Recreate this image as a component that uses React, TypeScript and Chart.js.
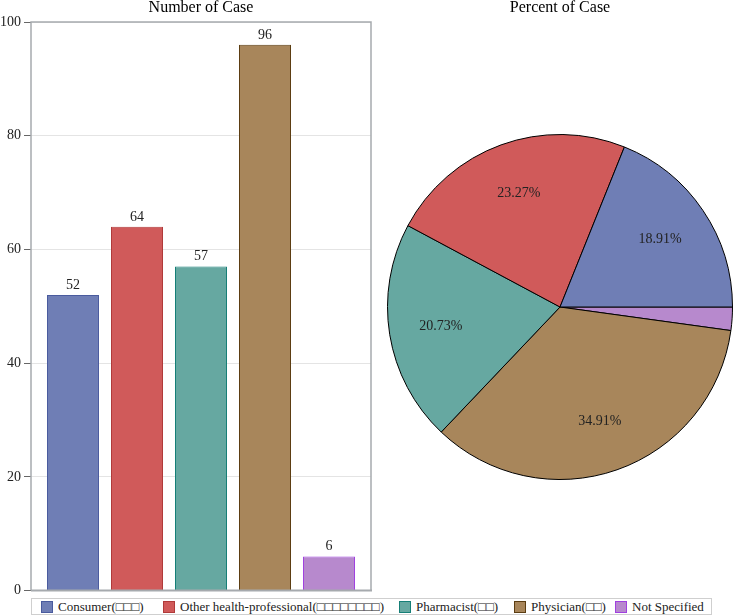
import React, { useEffect, useRef } from "react";
import { Chart, registerables } from "chart.js";

Chart.register(...registerables);

// Reporter types and case counts
const categories = [
  "Consumer(□□□)",
  "Other health-professional(□□□□□□□□)",
  "Pharmacist(□□)",
  "Physician(□□)",
  "Not Specified",
];
const caseCounts = [52, 64, 57, 96, 6];
const fillColors = ["#6F7EB5", "#D05A5A", "#66A8A1", "#A8865B", "#B789CD"];
const edgeColors = ["#4A5B9E", "#B03A3A", "#167F77", "#5C3D12", "#A040E0"];
const yTicks = [0, 20, 40, 60, 80, 100];

// Horizontal offsets of the legend entries inside the legend box
const legendOffsets = [9, 131, 367, 482, 583];

const SERIF = '"Liberation Serif", "Times New Roman", Tinos, "DejaVu Serif", serif';

const titlePlugin = (text: string) => ({
  id: "panelTitle",
  afterDraw(chart: any) {
    const { ctx, chartArea } = chart;
    ctx.save();
    ctx.font = `16px ${SERIF}`;
    ctx.fillStyle = "#000";
    ctx.textAlign = "center";
    ctx.textBaseline = "middle";
    ctx.fillText(text, (chartArea.left + chartArea.right) / 2, 8);
    ctx.restore();
  },
});

const framePlugin = {
  id: "frame",
  afterDatasetsDraw(chart: any) {
    const { ctx, chartArea: a } = chart;
    ctx.save();
    ctx.strokeStyle = "#A6AAAE";
    ctx.lineWidth = 1.5;
    ctx.beginPath();
    ctx.moveTo(a.left, a.bottom);
    ctx.lineTo(a.left, a.top);
    ctx.lineTo(a.right, a.top);
    ctx.lineTo(a.right, a.bottom);
    ctx.stroke();
    ctx.lineWidth = 2;
    ctx.beginPath();
    ctx.moveTo(a.left, a.bottom);
    ctx.lineTo(a.right + 1, a.bottom);
    ctx.stroke();
    ctx.restore();
  },
};

const barValuePlugin = {
  id: "barValues",
  afterDatasetsDraw(chart: any) {
    const { ctx } = chart;
    const meta = chart.getDatasetMeta(0);
    ctx.save();
    ctx.font = `14px ${SERIF}`;
    ctx.fillStyle = "#222";
    ctx.textAlign = "center";
    ctx.textBaseline = "alphabetic";
    meta.data.forEach((el: any, i: number) => {
      ctx.fillText(String(caseCounts[i]), el.x, el.y - 6);
    });
    ctx.restore();
  },
};

const total = caseCounts.reduce((s, v) => s + v, 0);

const pieLabelPlugin = {
  id: "pieLabels",
  afterDatasetsDraw(chart: any) {
    const { ctx } = chart;
    const meta = chart.getDatasetMeta(0);
    const values = chart.data.datasets[0].data as number[];
    ctx.save();
    ctx.font = `14px ${SERIF}`;
    ctx.fillStyle = "#222";
    ctx.textAlign = "center";
    ctx.textBaseline = "middle";
    meta.data.forEach((el: any, i: number) => {
      const pct = (values[i] / total) * 100;
      if (pct < 5) return;
      const p = el.getProps(["x", "y", "startAngle", "endAngle", "outerRadius"], true);
      const mid = (p.startAngle + p.endAngle) / 2;
      const r = p.outerRadius * 0.7;
      ctx.fillText(pct.toFixed(2) + "%", p.x + Math.cos(mid) * r, p.y + Math.sin(mid) * r);
    });
    ctx.restore();
  },
};

export default function App() {
  const barRef = useRef<HTMLCanvasElement>(null);
  const pieRef = useRef<HTMLCanvasElement>(null);

  useEffect(() => {
    document.body.style.margin = "0";
    const bar = new Chart(barRef.current!, {
      type: "bar",
      data: {
        datasets: [
          {
            data: caseCounts.map((v, i) => ({ x: i, y: v })),
            backgroundColor: fillColors,
            borderColor: edgeColors,
            borderWidth: 1,
            barPercentage: 0.8125,
            categoryPercentage: 1,
          } as any,
        ],
      },
      options: {
        responsive: false,
        animation: false,
        layout: { padding: { top: 22, bottom: 11, right: 9, left: 0 } },
        plugins: { legend: { display: false }, tooltip: { enabled: false } },
        scales: {
          x: {
            type: "linear",
            min: -0.656,
            max: 4.656,
            offset: false,
            grid: { offset: false },
            display: false,
          },
          y: {
            min: 0,
            max: 100,
            afterFit: (s: any) => {
              s.width = 31;
            },
            afterBuildTicks: (s: any) => {
              s.ticks = yTicks.map((v) => ({ value: v }));
            },
            ticks: { font: { family: SERIF, size: 14 }, color: "#222", padding: 3 },
            grid: { color: "#E4E4E4", tickColor: "#666", tickLength: 7, drawTicks: true },
            border: { display: false },
          },
        },
      } as any,
      plugins: [framePlugin, barValuePlugin, titlePlugin("Number of Case")],
    });

    // Pie drawn clockwise from 3 o'clock, so the order is reversed to read counter-clockwise
    const pieOrder = [4, 3, 2, 1, 0];
    const pie = new Chart(pieRef.current!, {
      type: "pie",
      data: {
        labels: pieOrder.map((i) => categories[i]),
        datasets: [
          {
            data: pieOrder.map((i) => caseCounts[i]),
            backgroundColor: pieOrder.map((i) => fillColors[i]),
            borderColor: "#000",
            borderWidth: 1,
          },
        ],
      },
      options: {
        responsive: false,
        animation: false,
        rotation: 90,
        layout: { padding: { top: 134, bottom: 117, left: 7, right: 0 } },
        plugins: { legend: { display: false }, tooltip: { enabled: false } },
      } as any,
      plugins: [pieLabelPlugin, titlePlugin("Percent of Case")],
    });

    return () => {
      bar.destroy();
      pie.destroy();
    };
  }, []);

  return (
    <div style={{ position: "relative", width: 733, height: 616, fontFamily: SERIF }}>
      <canvas ref={barRef} width={380} height={602} style={{ position: "absolute", left: 0, top: 0 }} />
      <canvas ref={pieRef} width={353} height={597} style={{ position: "absolute", left: 380, top: 0 }} />
      <div
        style={{
          position: "absolute",
          left: 31,
          top: 598,
          width: 681,
          height: 17,
          border: "1px solid #CFCFCF",
          boxSizing: "border-box",
          fontSize: 13,
          color: "#222",
          whiteSpace: "nowrap",
          background: "#fff",
        }}
      >
        {categories.map((c, i) => (
          <div
            key={c}
            style={{
              position: "absolute",
              left: legendOffsets[i],
              top: 0,
              height: 15,
              display: "flex",
              alignItems: "center",
            }}
          >
            <span
              style={{
                display: "inline-block",
                width: 10,
                height: 10,
                background: fillColors[i],
                border: `1px solid ${edgeColors[i]}`,
                marginRight: 5,
              }}
            />
            <span>{c}</span>
          </div>
        ))}
      </div>
    </div>
  );
}
